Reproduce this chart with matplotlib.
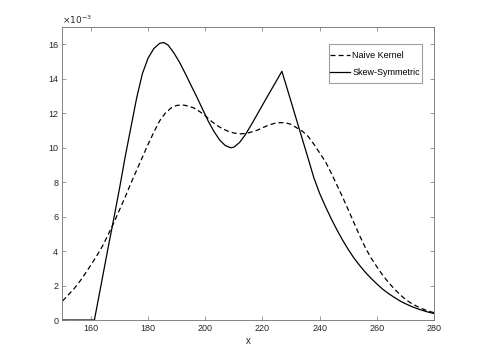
import matplotlib
matplotlib.use("Agg")
import matplotlib.pyplot as plt
from matplotlib.patches import Rectangle
import numpy as np

plt.rcParams['font.family'] = ['Liberation Sans', 'DejaVu Sans']

# Skew-Symmetric (solid), values in units of 1e-3
x_skew = [150, 161.2, 162, 164, 166, 168, 170, 172, 174, 176, 178, 180, 182, 184, 185.5,
          187, 189, 191, 193, 195, 197, 199, 201, 203, 205, 207, 209, 210, 212, 214,
          216, 218, 220, 222, 224, 226, 226.8, 228, 230, 232, 234, 236, 238, 240, 242, 244,
          246, 248, 250, 252, 254, 256, 258, 260, 262, 264, 266, 268, 270, 272, 274,
          276, 278, 280]
y_skew = [0, 0, 0.7, 2.45, 4.2, 5.9, 7.65, 9.5, 11.2, 12.9, 14.3, 15.2, 15.75, 16.05, 16.1,
          15.95, 15.5, 14.95, 14.3, 13.62, 12.95, 12.25, 11.55, 10.95, 10.45, 10.12, 9.99, 10.03, 10.3, 10.75,
          11.3, 11.88, 12.47, 13.05, 13.62, 14.2, 14.43, 13.78, 12.68, 11.57, 10.47, 9.37, 8.25, 7.35, 6.6, 5.9,
          5.25, 4.65, 4.1, 3.6, 3.17, 2.77, 2.42, 2.1, 1.8, 1.55, 1.33, 1.12, 0.95, 0.8, 0.67,
          0.56, 0.46, 0.38]

# Naive Kernel (dashed), values in units of 1e-3
x_naive = [150, 152, 154, 156, 158, 160, 162, 164, 166, 168, 170, 172, 174, 176, 178, 180,
           182, 184, 186, 188, 190, 192, 194, 196, 198, 200, 202, 204, 206, 208, 210, 212,
           214, 216, 218, 220, 222, 224, 226, 228, 230, 232, 234, 236, 238, 240, 242, 244,
           246, 248, 250, 252, 254, 256, 258, 260, 262, 264, 266, 268, 270, 272, 274, 276,
           278, 280]
y_naive = [1.1, 1.45, 1.8, 2.22, 2.7, 3.2, 3.72, 4.28, 4.95, 5.65, 6.4, 7.15, 7.95, 8.7, 9.45, 10.2,
           10.9, 11.55, 12.0, 12.3, 12.45, 12.48, 12.42, 12.3, 12.1, 11.85, 11.55, 11.3, 11.1, 10.95, 10.85, 10.8,
           10.82, 10.9, 11.0, 11.15, 11.3, 11.4, 11.45, 11.45, 11.35, 11.15, 10.95, 10.65, 10.2, 9.7, 9.2, 8.55,
           7.85, 7.15, 6.4, 5.65, 4.9, 4.2, 3.6, 3.1, 2.62, 2.2, 1.83, 1.5, 1.2, 0.98, 0.8, 0.65,
           0.52, 0.43]

x_ticks = [160, 180, 200, 220, 240, 260, 280]
y_ticks = [0, 2, 4, 6, 8, 10, 12, 14, 16]

fig = plt.figure(figsize=(4.8, 3.6), dpi=100)
ax = fig.add_axes([0.13, 0.111, 0.774, 0.814])

scale = 1e-3
ax.plot(x_naive, np.array(y_naive) * scale, color='black', linestyle=(0, (4, 2.5)), linewidth=0.9, label='Naive Kernel')
ax.plot(x_skew, np.array(y_skew) * scale, color='black', linestyle='-', linewidth=0.9, label='Skew-Symmetric')

ax.set_xlim(150, 280)
ax.set_ylim(0, 0.017)
ax.set_xticks(x_ticks)
ax.set_xticklabels([str(t) for t in x_ticks])
ax.set_yticks([t * scale for t in y_ticks])
ax.set_yticklabels([str(t) for t in y_ticks])

axcol = '#707070'
for s in ax.spines.values():
    s.set_color(axcol)
    s.set_linewidth(0.6)
ax.tick_params(direction='in', length=3, width=0.5, colors=axcol, labelcolor='#262626',
               labelsize=6.5, top=True, right=True, pad=3)

ax.set_xlabel('x', fontsize=7, color='#262626', labelpad=2)
ax.text(0.0, 1.005, r'$\times10^{-3}$', transform=ax.transAxes, fontsize=6.5,
        color='#262626', ha='left', va='bottom')

# legend box in figure pixels: x 329..422, y 44..83 (from top)
W, H = 480, 360
ax.add_patch(Rectangle((329 / W, 1 - 83 / H), 93 / W, 39 / H, transform=fig.transFigure,
                       facecolor='white', edgecolor='#a0a0a0', linewidth=0.8, zorder=5,
                       clip_on=False))
leg = ax.legend(loc='center left', bbox_to_anchor=(330 / W, 1 - 64 / H),
                bbox_transform=fig.transFigure, fontsize=6.5, frameon=False,
                handlelength=2.2, handletextpad=0.25, borderpad=0.0, borderaxespad=0.0,
                labelspacing=0.95)
leg.set_zorder(6)

fig.savefig('out.png', dpi=100)
